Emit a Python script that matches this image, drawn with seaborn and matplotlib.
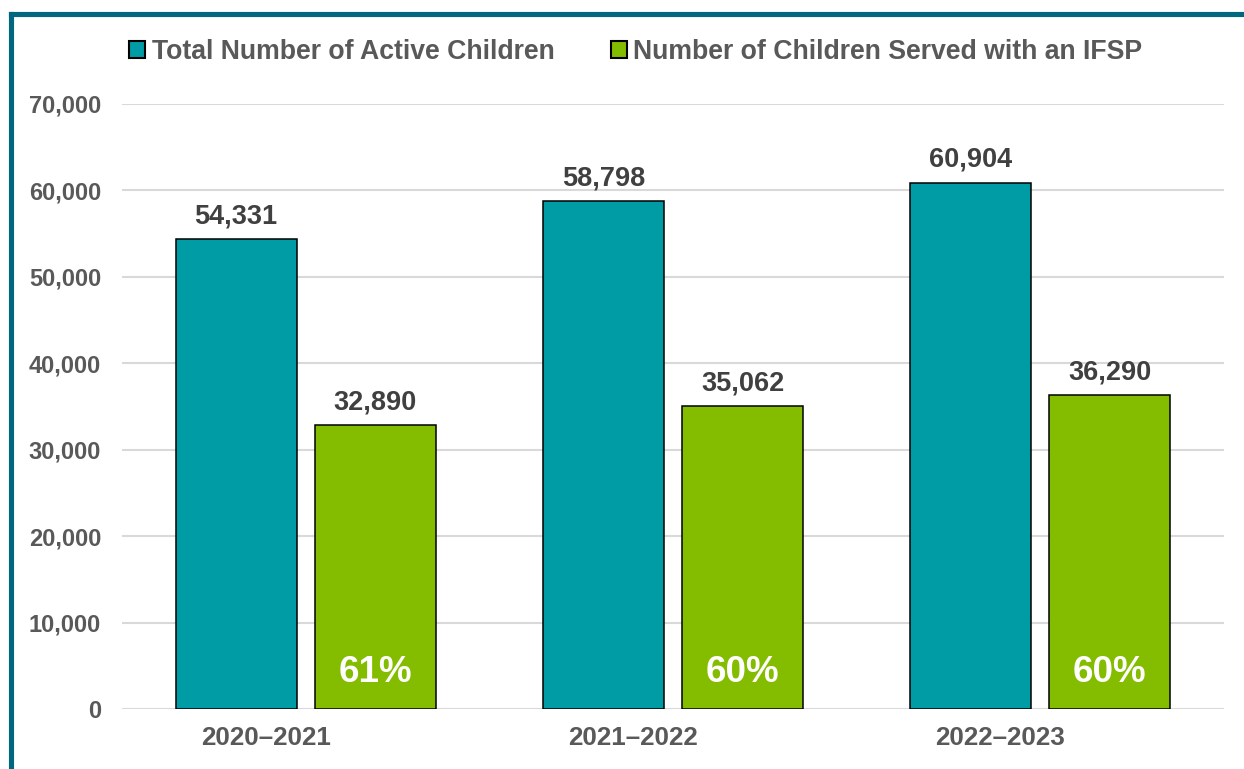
import matplotlib
matplotlib.use("Agg")
import matplotlib.pyplot as plt
from matplotlib.lines import Line2D
from matplotlib.patches import Patch
from matplotlib.ticker import FuncFormatter, MultipleLocator
import matplotlib.transforms as mtransforms
import pandas as pd
import seaborn as sns

# Program years and counts
years = ["2020–2021", "2021–2022", "2022–2023"]
total_active = [54331, 58798, 60904]
served_ifsp = [32890, 35062, 36290]
series_names = ["Total Number of Active Children",
                "Number of Children Served with an IFSP"]

TEAL = "#009CA6"
GREEN = "#84BD00"
BORDER = "#00677F"
TICK_GRAY = "#595959"
LABEL_DARK = "#404040"
GRID = "#D9D9D9"

sns.set_theme(style="white")
plt.rcParams["font.family"] = ["Liberation Sans", "DejaVu Sans"]
plt.rcParams["font.weight"] = "bold"

df = pd.DataFrame({
    "year": years * 2,
    "count": total_active + served_ifsp,
    "series": [series_names[0]] * 3 + [series_names[1]] * 3,
})

fig = plt.figure(figsize=(12.44, 7.69), dpi=100)
ax = fig.add_axes([122 / 1244, 1 - 709 / 769, 1102 / 1244, 605 / 769])

sns.barplot(data=df, x="year", y="count", hue="series", hue_order=series_names,
            palette=[TEAL, GREEN], saturation=1, width=0.757, gap=0.13,
            edgecolor="black", linewidth=1.1, legend=False, ax=ax)

ax.set_xlim(-0.5, 2.5)
ax.set_ylim(0, 70000)
ax.yaxis.set_major_locator(MultipleLocator(10000))
ax.yaxis.set_major_formatter(FuncFormatter(lambda v, p: f"{int(v):,}"))
ax.grid(axis="y", color=GRID, linewidth=1.5)
ax.set_axisbelow(True)
for s in ax.spines.values():
    s.set_visible(False)
ax.set_xlabel("")
ax.set_ylabel("")
ax.tick_params(axis="y", length=0, pad=15, labelsize=17, labelcolor=TICK_GRAY)
ax.tick_params(axis="x", length=0, pad=12, labelsize=18.7, labelcolor=TICK_GRAY)
for lbl in ax.get_yticklabels() + ax.get_xticklabels():
    lbl.set_fontweight("bold")

# Shift category labels slightly to the left of the group centre
shift = mtransforms.ScaledTranslation(-0.40, 0, fig.dpi_scale_trans)
for lbl in ax.get_xticklabels():
    lbl.set_transform(lbl.get_transform() + shift)

# Value labels above bars
for cont, vals in zip(ax.containers, [total_active, served_ifsp]):
    ax.bar_label(cont, labels=[f"{v:,}" for v in vals], padding=7,
                 fontsize=19.5, fontweight="bold", color=LABEL_DARK)

# Share of active children served with an IFSP, inside the green bars
pct = [f"{round(s / t * 100)}%" for s, t in zip(served_ifsp, total_active)]
for bar, txt in zip(ax.containers[1], pct):
    ax.annotate(txt, xy=(bar.get_x() + bar.get_width() / 2, 0),
                xytext=(0, 26.5), textcoords="offset points",
                ha="center", va="center", fontsize=26.5, fontweight="bold",
                color="white")

# Legend across the top
handles = [Patch(facecolor=TEAL, edgecolor="black", linewidth=1.5),
           Patch(facecolor=GREEN, edgecolor="black", linewidth=1.5)]
leg = fig.legend(handles, series_names, loc="center",
                 bbox_to_anchor=(636 / 1244, 1 - 52 / 769), ncol=2,
                 frameon=False, fontsize=19.2, handlelength=0.6,
                 handleheight=0.6, handletextpad=0.25, columnspacing=2.1,
                 borderaxespad=0, borderpad=0)
for t in leg.get_texts():
    t.set_color(TICK_GRAY)
    t.set_fontweight("bold")

# Frame lines along the top and left edges
fig.add_artist(Line2D([10.5 / 1244, 1.0], [1 - 14 / 769, 1 - 14 / 769],
                      transform=fig.transFigure, color=BORDER, linewidth=3.7,
                      solid_capstyle="projecting"))
fig.add_artist(Line2D([10.5 / 1244, 10.5 / 1244], [1 - 14 / 769, 0.0],
                      transform=fig.transFigure, color=BORDER, linewidth=3.7,
                      solid_capstyle="projecting"))

fig.savefig("out.png", dpi=100, facecolor="white")
